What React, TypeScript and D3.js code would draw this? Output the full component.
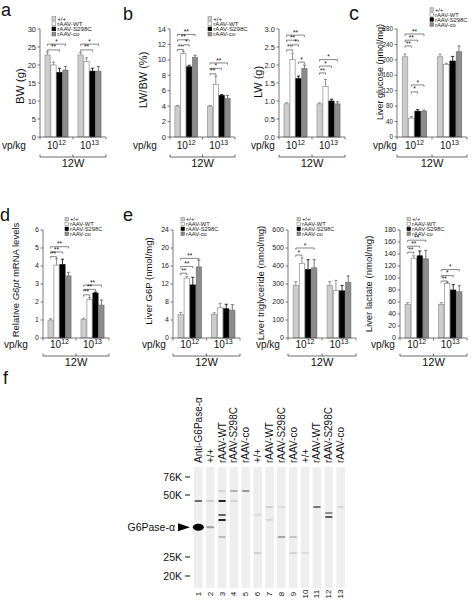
import React from 'react';
import * as d3 from 'd3';

const FONT = 'Liberation Sans, Arial, Helvetica, sans-serif';

const seriesNames = ['+/+', 'rAAV-WT', 'rAAV-S298C', 'rAAV-co'];
const doseExponents = ['12', '13'];

// a: body weight (g)
const bwMean = [[22.8, 20.0, 17.9, 18.6], [22.8, 21.0, 18.3, 18.3]];
const bwErr = [[0.8, 0.8, 1.2, 1.0], [0.7, 1.0, 0.8, 1.3]];
const bwSig = [[0, 0, 3, '*', 25.8], [0, 0, 2, '**', 24.2], [1, 0, 3, '*', 25.8], [1, 0, 2, '**', 24.2]];
const bwTicks = [0, 5, 10, 15, 20, 25, 30];

// b: LW/BW (%)
const lwbwMean = [[4.0, 10.8, 9.1, 10.3], [4.0, 6.8, 5.4, 5.0]];
const lwbwErr = [[0.1, 0.3, 0.2, 0.3], [0.1, 1.1, 0.1, 0.4]];
const lwbwSig = [[0, 0, 3, '**', 13.3], [0, 0, 2, '**', 12.6], [0, 1, 2, '*', 11.95], [0, 0, 1, '**', 11.35], [1, 0, 3, '**', 9.6], [1, 0, 2, '*', 8.9], [1, 0, 1, '**', 8.2]];
const lwbwTicks = [0, 2, 4, 6, 8, 10, 12, 14];

// b: LW (g)
const lwMean = [[0.92, 2.15, 1.62, 1.9], [0.92, 1.4, 1.0, 0.92]];
const lwErr = [[0.03, 0.18, 0.07, 0.1], [0.03, 0.2, 0.05, 0.06]];
const lwSig = [[0, 0, 3, '**', 2.83], [0, 0, 2, '**', 2.69], [0, 1, 2, '*', 2.56], [0, 0, 1, '**', 2.42], [0, 2, 3, '*', 2.08], [1, 0, 3, '*', 2.15], [1, 0, 2, '*', 1.97], [1, 0, 1, '**', 1.78]];
const lwTicks = [0, 0.5, 1.0, 1.5, 2.0, 2.5, 3.0];

// c: liver glucose (nmol/mg)
const glucoseMean = [[208, 49, 67, 67], [208, 188, 197, 221]];
const glucoseErr = [[7, 4, 4, 3], [7, 3, 12, 15]];
const glucoseSig = [[0, 0, 3, '**', 267], [0, 0, 2, '**', 251], [0, 0, 1, '**', 236], [0, 1, 3, '*', 135], [0, 1, 2, '*', 117]];
const glucoseTicks = [0, 40, 80, 120, 160, 200, 240, 280];

// d: relative G6pt mRNA
const g6ptMean = [[1.0, 4.05, 4.08, 3.45], [1.03, 2.15, 2.5, 1.83]];
const g6ptErr = [[0.07, 0.35, 0.3, 0.2], [0.07, 0.1, 0.05, 0.28]];
const g6ptSig = [[0, 0, 3, '**', 5.07], [0, 0, 2, '**', 4.78], [0, 0, 1, '**', 4.52], [1, 0, 3, '**', 2.94], [1, 0, 2, '**', 2.7], [1, 0, 1, '**', 2.4]];
const g6ptTicks = [0, 1, 2, 3, 4, 5, 6];

// e: liver G6P
const g6pMean = [[5.2, 13.3, 11.8, 15.8], [5.2, 6.7, 6.5, 6.2]];
const g6pErr = [[0.5, 0.4, 1.7, 1.5], [0.4, 1.0, 1.0, 1.2]];
const g6pSig = [[0, 0, 3, '**', 17.7], [0, 0, 2, '**', 15.9], [0, 0, 1, '**', 14.4]];
const g6pTicks = [0, 4, 8, 12, 16, 20, 24];

// e: liver triglyceride
const tgMean = [[293, 415, 380, 390], [293, 265, 262, 310]];
const tgErr = [[20, 30, 55, 45], [20, 55, 30, 35]];
const tgSig = [[0, 0, 3, '*', 500], [0, 0, 1, '*', 461]];
const tgTicks = [0, 100, 200, 300, 400, 500, 600];

// e: liver lactate
const lacMean = [[56, 133, 137, 132], [56, 91, 80, 77]];
const lacErr = [[3, 4, 8, 14], [3, 2, 9, 10]];
const lacSig = [[0, 0, 3, '**', 163], [0, 0, 2, '**', 153], [0, 0, 1, '**', 143], [1, 0, 3, '*', 114], [1, 0, 2, '*', 104], [1, 0, 1, '**', 95]];
const lacTicks = [0, 20, 40, 60, 80, 100, 120, 140, 160, 180];

// f: western blot
const laneNumbers = ['1', '2', '3', '4', '5', '6', '7', '8', '9', '10', '11', '12', '13'];
const laneLabels = ['Anti-G6Pase-α', '+/+', 'rAAV-WT', 'rAAV-S298C', 'rAAV-co', '+/+', 'rAAV-WT', 'rAAV-S298C', 'rAAV-co', '+/+', 'rAAV-WT', 'rAAV-S298C', 'rAAV-co'];
const markerKDa = [76, 50, 25, 20];
const markerLabels = ['76K', '50K', '25K', '20K'];
const targetKDa = 37;
const targetLabel = 'G6Pase-α';
const strongBands = [['1', 37]];
const bands = [
  ['1', 47.6, 0.55], ['2', 47.6, 0.15], ['2', 37, 0.35],
  ['3', 47.6, 0.85], ['3', 41.9, 0.6], ['3', 39.9, 0.85], ['3', 33.1, 0.2], ['3', 55.8, 0.1],
  ['4', 55.8, 0.25], ['4', 47.6, 0.1], ['5', 55.8, 0.35],
  ['6', 26.6, 0.12], ['6', 42, 0.08], ['7', 45.2, 0.12], ['7', 40, 0.1],
  ['8', 33.1, 0.3], ['8', 45.2, 0.08], ['9', 33.1, 0.18], ['9', 26.6, 0.1],
  ['10', 26.6, 0.08], ['11', 45.2, 0.5], ['12', 42.7, 0.4], ['12', 41.1, 0.6], ['13', 45.2, 0.08],
];

const FILLS = ['#cdcdcd', '#ffffff', '#000000', '#8c8c8c'];
const STROKES = ['#8a8a8a', '#7a7a7a', '#000000', '#666666'];
const ERRC = ['#777777', '#777777', '#000000', '#555555'];

const TOP = { y0: 137, y1: 29, lblBase: 149, brY: 157, wBase: 167 };
const BOT = { y0: 338, y1: 230, lblBase: 348, brY: 356, wBase: 366 };

const LAYOUT = {
  a: { ...TOP, x0: 40, x1: 106, tickFs: 7.5, labelX: 20, labelCy: 86, labelFs: 11.5, vpX: 2 },
  b1: { ...TOP, x0: 170, x1: 235, tickFs: 7.5, labelX: 143, labelCy: 80, labelFs: 11, vpX: 133 },
  b2: { ...TOP, x0: 279, x1: 345, tickFs: 7.5, labelX: 258, labelCy: 82, labelFs: 11, vpX: 251 },
  c: { ...TOP, x0: 397, x1: 467, tickFs: 6.3, labelX: 380, labelCy: 72, labelFs: 9, vpX: 373 },
  d: { ...BOT, x0: 43, x1: 109, tickFs: 7, labelX: 15, labelCy: 280, labelFs: 9.5, vpX: 4 },
  e1: { ...BOT, x0: 173, x1: 240, tickFs: 7, labelX: 148, labelCy: 281, labelFs: 9.5, vpX: 142 },
  e2: { ...BOT, x0: 288, x1: 356, tickFs: 7, labelX: 260, labelCy: 283, labelFs: 9.5, vpX: 256 },
  e3: { ...BOT, x0: 400, x1: 467, tickFs: 7, labelX: 368, labelCy: 284, labelFs: 9.5, vpX: 371 },
};

function Legend({ x, y, dy, fs }) {
  const s = fs * 0.6;
  return (
    <g>
      {seriesNames.map((n, i) => (
        <g key={n}>
          <rect x={x} y={y + i * dy - s / 2} width={s} height={s} fill={FILLS[i]} stroke={STROKES[i]} strokeWidth={0.6} />
          <text x={x + s + 1.5} y={y + i * dy} dy="0.35em" fontSize={fs} fill="#222">{n}</text>
        </g>
      ))}
    </g>
  );
}

function BarPanel({ L, mean, err, sig, ticks, fmt, yMax, yLabel }) {
  const y = d3.scaleLinear().domain([0, yMax]).range([L.y0, L.y1]);
  const gx = d3.scaleBand().domain(doseExponents).range([L.x0, L.x1]).paddingInner(0.3).paddingOuter(0.15);
  const sx = d3.scaleBand().domain(seriesNames).range([0, gx.bandwidth()]).paddingInner(0.12);
  const f = d3.format(fmt);
  const cx = (g, s) => gx(doseExponents[g]) + sx(seriesNames[s]) + sx.bandwidth() / 2;
  const mid = (L.x0 + L.x1) / 2;
  const bw = sx.bandwidth();
  return (
    <g>
      {mean.map((row, g) =>
        row.map((v, s) => {
          const x = gx(doseExponents[g]) + sx(seriesNames[s]);
          const yt = y(v);
          const ye = y(v + err[g][s]);
          const c = x + bw / 2;
          return (
            <g key={g + '-' + s}>
              <line x1={c} x2={c} y1={yt} y2={ye} stroke={ERRC[s]} strokeWidth={0.8} />
              <line x1={c - 1.6} x2={c + 1.6} y1={ye} y2={ye} stroke={ERRC[s]} strokeWidth={0.8} />
              <rect x={x} y={yt} width={bw} height={L.y0 - yt} fill={FILLS[s]} stroke={STROKES[s]} strokeWidth={0.6} />
            </g>
          );
        })
      )}
      {sig.map(([g, a, b, lab, lvl], i) => {
        const xa = cx(g, a);
        const xb = cx(g, b);
        const yl = y(lvl);
        return (
          <g key={'s' + i}>
            <path d={`M${xa},${yl + 1.8}V${yl}H${xb}V${yl + 1.8}`} fill="none" stroke="#333" strokeWidth={0.6} />
            <text x={(xa + xb) / 2} y={yl - 0.4} textAnchor="middle" fontSize={6.5} fill="#111">{lab}</text>
          </g>
        );
      })}
      <line x1={L.x0} x2={L.x0} y1={L.y0} y2={L.y1} stroke="#555" strokeWidth={0.8} />
      {ticks.map((t) => (
        <g key={'t' + t}>
          <line x1={L.x0 - 2.5} x2={L.x0} y1={y(t)} y2={y(t)} stroke="#555" strokeWidth={0.8} />
          <text x={L.x0 - 4} y={y(t)} dy="0.35em" textAnchor="end" fontSize={L.tickFs} fill="#222">{f(t)}</text>
        </g>
      ))}
      <line x1={L.x0} x2={L.x1} y1={L.y0} y2={L.y0} stroke="#555" strokeWidth={0.8} />
      {[L.x0, mid, L.x1].map((xx, i) => (
        <line key={'xt' + i} x1={xx} x2={xx} y1={L.y0} y2={L.y0 + 2.5} stroke="#555" strokeWidth={0.8} />
      ))}
      {doseExponents.map((e) => (
        <text key={e} x={gx(e) + gx.bandwidth() / 2} y={L.lblBase} textAnchor="middle" fontSize={10} fill="#111">
          10<tspan fontSize={7} dy={-4}>{e}</tspan>
        </text>
      ))}
      <text x={L.vpX} y={L.lblBase} fontSize={10} fill="#111">vp/kg</text>
      <path d={`M${L.x0},${L.brY - 2.5}V${L.brY}H${L.x1}V${L.brY - 2.5}M${mid},${L.brY}V${L.brY - 2.5}`} fill="none" stroke="#444" strokeWidth={0.8} />
      <text x={mid} y={L.wBase} textAnchor="middle" fontSize={11} fill="#111">12W</text>
      <text transform={`translate(${L.labelX},${L.labelCy}) rotate(-90)`} textAnchor="middle" dominantBaseline="central" fontSize={L.labelFs} fill="#111">{yLabel}</text>
    </g>
  );
}

function Blot() {
  const lx = d3.scaleBand().domain(laneNumbers).range([194, 345]).paddingInner(0.27).paddingOuter(0);
  const my = d3.scaleLinear().domain(markerKDa).range([477, 495, 557, 576]);
  const bw = lx.bandwidth();
  const ty = my(targetKDa);
  return (
    <g>
      <text x={3} y={384} fontSize={18} fill="#111">f</text>
      {laneNumbers.map((n, i) => {
        const c = lx(n) + bw / 2;
        return (
          <g key={n}>
            <rect x={lx(n)} y={467} width={bw} height={121} fill="#eeeeee" />
            <text transform={`translate(${c},463) rotate(-90)`} dominantBaseline="central" fontSize={10} fill="#111">{laneLabels[i]}</text>
            <text transform={`translate(${c},594) rotate(-90)`} textAnchor="middle" dominantBaseline="central" fontSize={8} fill="#111">{n}</text>
          </g>
        );
      })}
      {bands.map(([n, k, v], i) => (
        <rect key={'b' + i} x={lx(n) + 0.5} y={my(k) - 1} width={bw - 1} height={2} rx={1} fill="#000" fillOpacity={v} />
      ))}
      {strongBands.map(([n, k], i) => (
        <ellipse key={'sb' + i} cx={lx(n) + bw / 2} cy={my(k)} rx={bw / 2 + 1.2} ry={3.4} fill="#000" />
      ))}
      {markerKDa.map((k, i) => (
        <g key={'m' + k}>
          <text x={182} y={my(k)} dy="0.35em" textAnchor="end" fontSize={10.5} fill="#111">{markerLabels[i]}</text>
          <line x1={185} x2={190} y1={my(k)} y2={my(k)} stroke="#111" strokeWidth={1} />
        </g>
      ))}
      <text x={175} y={ty} dy="0.35em" textAnchor="end" fontSize={10.5} fill="#111">{targetLabel}</text>
      <path d={`M178,${ty - 4}L190,${ty}L178,${ty + 4}Z`} fill="#000" />
    </g>
  );
}

export default function App() {
  return (
    <svg width={472} height={600} style={{ position: 'absolute', left: 0, top: 0, fontFamily: FONT }}>
      <rect width={472} height={600} fill="#fff" />
      <text x={1} y={16} fontSize={18} fill="#111">a</text>
      <text x={123} y={20} fontSize={18} fill="#111">b</text>
      <text x={349} y={20} fontSize={20} fill="#111">c</text>
      <text x={0} y={221} fontSize={18} fill="#111">d</text>
      <text x={123} y={221} fontSize={18} fill="#111">e</text>

      <BarPanel L={LAYOUT.a} mean={bwMean} err={bwErr} sig={bwSig} ticks={bwTicks} fmt="d" yMax={30} yLabel="BW (g)" />
      <Legend x={52} y={18.5} dy={5.2} fs={6.2} />

      <BarPanel L={LAYOUT.b1} mean={lwbwMean} err={lwbwErr} sig={lwbwSig} ticks={lwbwTicks} fmt="d" yMax={14} yLabel="LW/BW (%)" />
      <BarPanel L={LAYOUT.b2} mean={lwMean} err={lwErr} sig={lwSig} ticks={lwTicks} fmt=".1f" yMax={3} yLabel="LW (g)" />
      <Legend x={208} y={18.5} dy={5.2} fs={6.2} />

      <BarPanel L={LAYOUT.c} mean={glucoseMean} err={glucoseErr} sig={glucoseSig} ticks={glucoseTicks} fmt="d" yMax={280} yLabel="Liver glucose (nmol/mg)" />
      <Legend x={430} y={9.5} dy={5} fs={5.8} />

      <BarPanel L={LAYOUT.d} mean={g6ptMean} err={g6ptErr} sig={g6ptSig} ticks={g6ptTicks} fmt="d" yMax={6}
        yLabel={<>Relative <tspan fontStyle="italic">G6pt</tspan> mRNA levels</>} />
      <Legend x={65} y={219} dy={4.9} fs={5.8} />

      <BarPanel L={LAYOUT.e1} mean={g6pMean} err={g6pErr} sig={g6pSig} ticks={g6pTicks} fmt="d" yMax={24} yLabel="Liver G6P (nmol/mg)" />
      <Legend x={181} y={219} dy={4.9} fs={5.8} />
      <BarPanel L={LAYOUT.e2} mean={tgMean} err={tgErr} sig={tgSig} ticks={tgTicks} fmt="d" yMax={600} yLabel="Liver triglyceride (nmol/mg)" />
      <Legend x={297} y={219} dy={4.9} fs={5.8} />
      <BarPanel L={LAYOUT.e3} mean={lacMean} err={lacErr} sig={lacSig} ticks={lacTicks} fmt="d" yMax={180} yLabel="Liver lactate (nmol/mg)" />
      <Legend x={407} y={219} dy={4.9} fs={5.8} />

      <Blot />
    </svg>
  );
}
